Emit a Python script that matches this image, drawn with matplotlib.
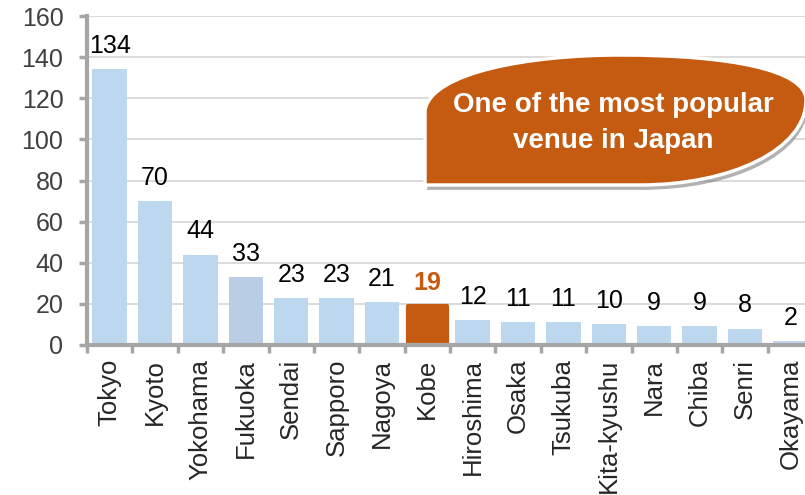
import matplotlib
matplotlib.use("Agg")
import matplotlib.pyplot as plt
from matplotlib.path import Path
from matplotlib.patches import PathPatch
import matplotlib.patheffects as pe

plt.rcParams['font.family'] = ['Liberation Sans', 'DejaVu Sans']

cities = ["Tokyo", "Kyoto", "Yokohama", "Fukuoka", "Sendai", "Sapporo", "Nagoya", "Kobe",
          "Hiroshima", "Osaka", "Tsukuba", "Kita-kyushu", "Nara", "Chiba", "Senri", "Okayama"]
counts = [134, 70, 44, 33, 23, 23, 21, 19, 12, 11, 11, 10, 9, 9, 8, 2]
highlight = "Kobe"
yticks = [0, 20, 40, 60, 80, 100, 120, 140, 160]
callout_text = "One of the most popular\nvenue in Japan"

W, H = 805, 495
fig = plt.figure(figsize=(W / 100, H / 100), dpi=100)
ax = fig.add_axes([87 / W, (H - 345) / H, 726 / W, 329 / H])

base = "#BDD7EE"
alt = "#B9CDE5"
orange = "#C55A11"
xs = list(range(len(cities)))
for i, (c, v) in enumerate(zip(cities, counts)):
    if c == highlight:
        bars = ax.bar(i, v, width=0.86, color=orange, edgecolor=orange, linewidth=3, zorder=3)
        for b in bars:
            b.set_joinstyle("round")
        ax.annotate(str(v), (i, v), xytext=(0, 8), textcoords="offset points",
                    ha="center", va="bottom", fontsize=18, fontweight="bold", color=orange)
    else:
        col = alt if c == "Fukuoka" else base
        ax.bar(i, v, width=0.76, color=col, zorder=3)
        ax.annotate(str(v), (i, v), xytext=(0, 8), textcoords="offset points",
                    ha="center", va="bottom", fontsize=18, color="black")

ax.set_xlim(-0.5, len(cities) - 0.5)
ax.set_ylim(0, 160)
ax.set_yticks(yticks)
ax.set_yticklabels([str(t) for t in yticks])
ax.grid(axis="y", color="#D9D9D9", linewidth=1.3, zorder=0)
ax.set_axisbelow(True)

ax.set_xticks(xs)
ax.set_xticklabels(cities, rotation=90, fontsize=18.5, color="#262626")
ax.set_xticks([i - 0.5 for i in range(len(cities) + 1)], minor=True)
ax.tick_params(axis="x", which="major", length=0, pad=10)
ax.tick_params(axis="x", which="minor", length=6, width=2.5, color="#A6A6A6", direction="out")
ax.tick_params(axis="y", length=6, width=2.5, color="#A6A6A6", labelsize=18, labelcolor="#404040", pad=11)

for s in ["top", "right"]:
    ax.spines[s].set_visible(False)
for s in ["left", "bottom"]:
    ax.spines[s].set_color("#A6A6A6")
    ax.spines[s].set_linewidth(3)
    ax.spines[s].set_zorder(4)

# callout shape in pixel coordinates (y downward), converted to figure fraction
def P(x, y):
    return (x / W, (H - y) / H)

verts = [P(425, 185), P(425, 110),
         P(432, 72), P(530, 55), P(620, 55),
         P(730, 55), P(806, 70), P(806, 100),
         P(806, 150), P(730, 185), P(640, 185),
         P(425, 185), P(425, 185)]
codes = [Path.MOVETO, Path.LINETO,
         Path.CURVE4, Path.CURVE4, Path.CURVE4,
         Path.CURVE4, Path.CURVE4, Path.CURVE4,
         Path.CURVE4, Path.CURVE4, Path.CURVE4,
         Path.LINETO, Path.CLOSEPOLY]
patch = PathPatch(Path(verts, codes), facecolor=orange, edgecolor="white", linewidth=2.5,
                  transform=fig.transFigure, zorder=10)
patch.set_path_effects([pe.SimplePatchShadow(offset=(1.5, -3.5), shadow_rgbFace="#7F7F7F", alpha=0.6),
                        pe.Normal()])
fig.patches.append(patch)
fig.text(613 / W, (H - 123) / H, callout_text, ha="center", va="center", color="white",
         fontsize=20, fontweight="bold", linespacing=1.45, zorder=11)

fig.savefig("out.png", dpi=100)
